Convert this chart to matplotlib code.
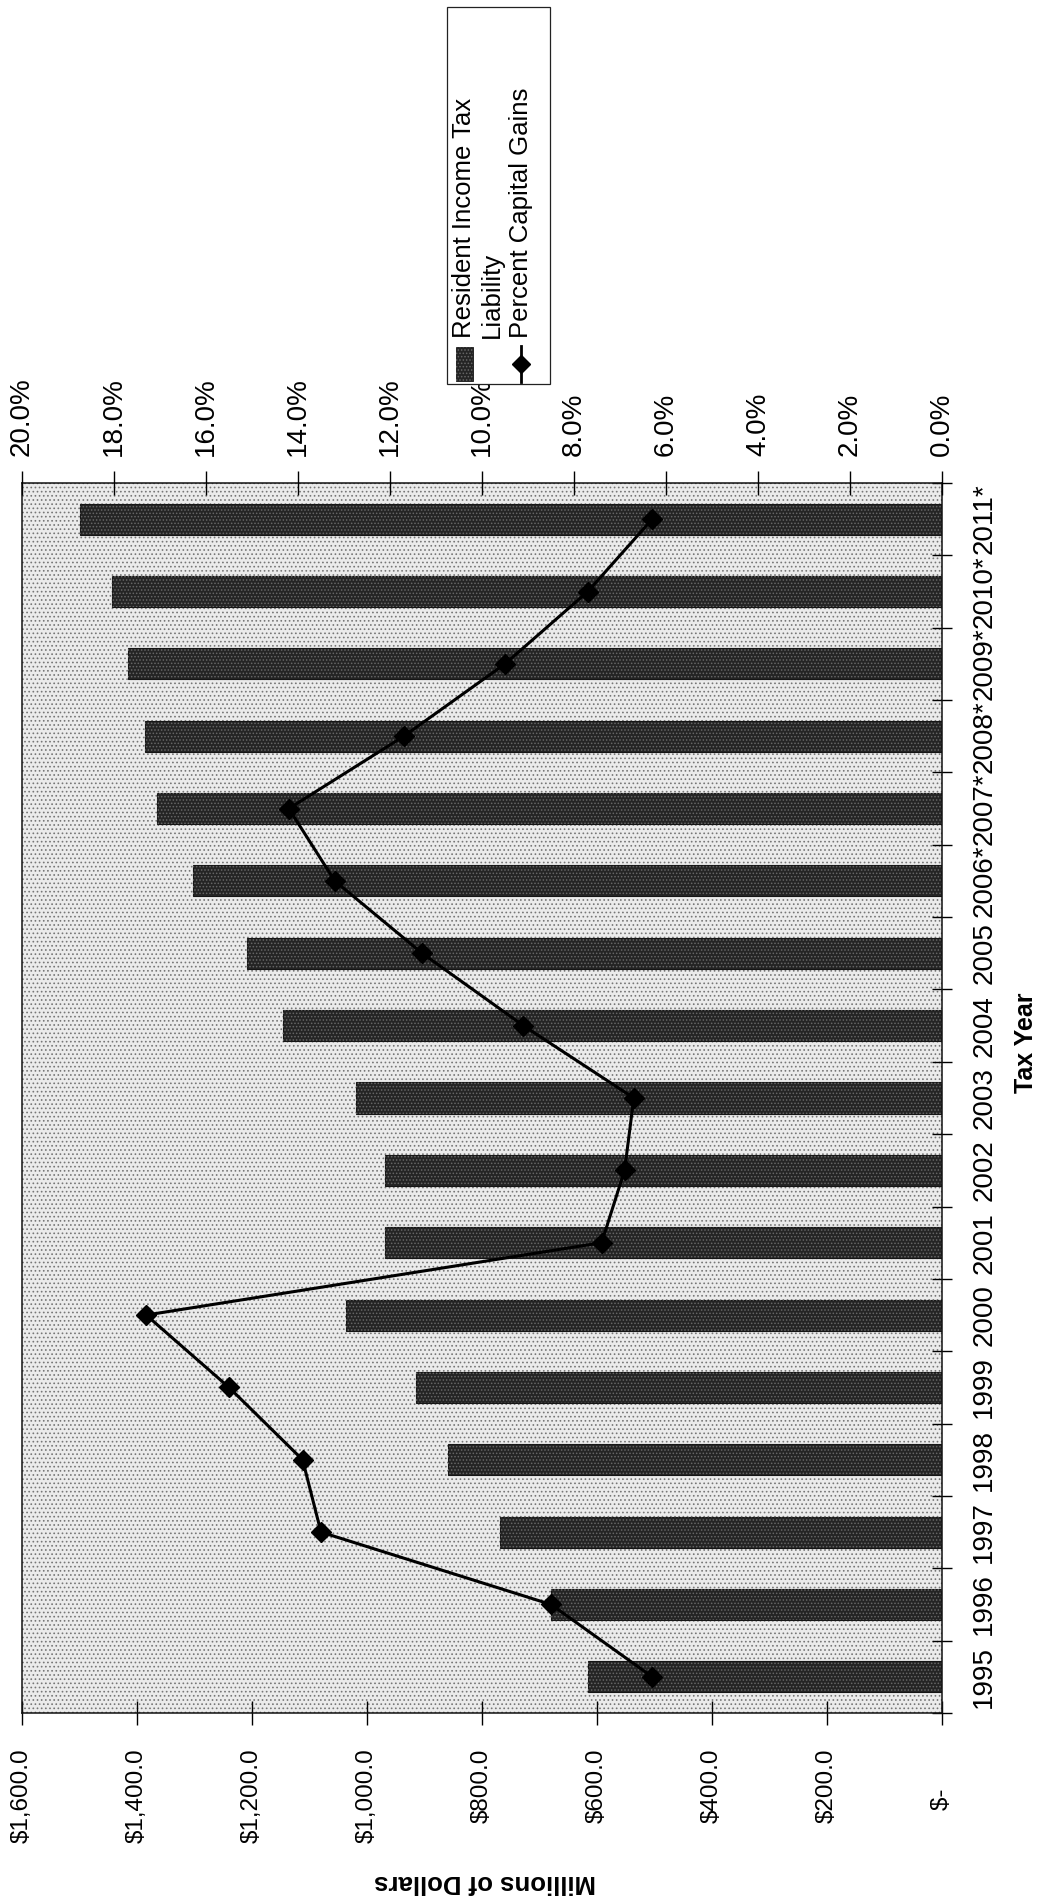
import matplotlib
matplotlib.use("Agg")
import matplotlib.pyplot as plt
from matplotlib.patches import Rectangle
from matplotlib.lines import Line2D
import numpy as np

# ---- data -------------------------------------------------------------
years = ["1995", "1996", "1997", "1998", "1999", "2000", "2001", "2002",
         "2003", "2004", "2005", "2006*", "2007*", "2008*", "2009*",
         "2010*", "2011*"]
liability = [616, 680, 769, 859, 915, 1037, 969, 969, 1019, 1146, 1209,
             1303, 1365, 1386, 1416, 1443, 1499]          # millions of dollars
cap_gains_pct = [6.3, 8.5, 13.5, 13.9, 15.5, 17.3, 7.4, 6.9, 6.7, 9.1,
                 11.3, 13.2, 14.2, 11.7, 9.5, 7.7, 6.3]     # percent
dollar_ticks = [0, 200, 400, 600, 800, 1000, 1200, 1400, 1600]
dollar_labels = ["$-      ", "$200.0", "$400.0", "$600.0", "$800.0",
                 "$1,000.0", "$1,200.0", "$1,400.0", "$1,600.0"]
pct_ticks = [0, 2, 4, 6, 8, 10, 12, 14, 16, 18, 20]
pct_labels = ["0.0%", "2.0%", "4.0%", "6.0%", "8.0%", "10.0%", "12.0%",
              "14.0%", "16.0%", "18.0%", "20.0%"]

# ---- style ------------------------------------------------------------
plt.rcParams['font.family'] = ['Liberation Sans', 'DejaVu Sans']
plt.rcParams['hatch.linewidth'] = 0.7

BAR_FACE = '#242424'
BAR_SPECKLE = '#666666'

W, H = 1038, 1902
fig = plt.figure(figsize=(W / 100, H / 100), dpi=100)


def fx(x):
    return x / W


def fy(y):
    return 1 - y / H


# chart printed sideways: years run up the right edge, bars grow leftwards
L, R, T, B = 22, 942, 483, 1713
ax = fig.add_axes([fx(L), fy(B), (R - L) / W, (B - T) / H])
pos = np.arange(len(years))

ax.set_facecolor('white')
ax.add_patch(Rectangle((0, 0), 1, 1, transform=ax.transAxes,
                       facecolor='#ebebeb', edgecolor='#777777', lw=0,
                       hatch='....', zorder=0))

ax.barh(pos, liability, height=0.43, color=BAR_FACE,
        edgecolor='#151515', lw=0.8, zorder=2)
ax.barh(pos, liability, height=0.43, facecolor='none',
        edgecolor=BAR_SPECKLE, lw=0, hatch='.....', zorder=2.1)

ax.set_xlim(1600, 0)
ax.set_ylim(-0.5, len(years) - 0.5)

ax.set_xticks(dollar_ticks, dollar_labels, rotation=90, fontsize=17.5)
ax.tick_params(axis='x', direction='inout', length=17, width=1, pad=17)

ax.yaxis.tick_right()
ax.set_yticks(pos, years, rotation=90, fontsize=20)
plt.setp(ax.get_yticklabels(), va='center')
ax.set_yticks(np.arange(-0.5, len(years)), minor=True)
ax.tick_params(axis='y', which='major', length=0, pad=21)
ax.tick_params(axis='y', which='minor', direction='inout', length=15,
               width=1, right=True, left=False)

for s in ax.spines.values():
    s.set_linewidth(1.1)
    s.set_color('#111111')

# percent axis along the top
ax2 = ax.twiny()
ax2.set_xlim(20, 0)
ax2.set_xticks(pct_ticks, pct_labels, rotation=90, fontsize=20)
ax2.tick_params(axis='x', direction='inout', length=17, width=1, pad=11)
ax2.plot(cap_gains_pct, pos, color='black', lw=2.2, marker='D',
         markersize=10, zorder=3)
for s in ax2.spines.values():
    s.set_visible(False)

# axis titles
fig.text(fx(485), fy(1882), 'Millions of Dollars', rotation=180,
         ha='center', va='center', fontsize=18.5, fontweight='bold')
fig.text(fx(1026), fy(1043), 'Tax Year', rotation=90,
         ha='center', va='center', fontsize=18, fontweight='bold')

# legend box
fig.add_artist(Rectangle((fx(447), fy(384)), 103 / W, 377 / H,
                         transform=fig.transFigure, facecolor='white',
                         edgecolor='#222222', lw=0.9))
fig.add_artist(Rectangle((fx(456), fy(381)), 17 / W, 34 / H,
                         transform=fig.transFigure, facecolor=BAR_FACE,
                         edgecolor='#151515', lw=0.6))
fig.add_artist(Rectangle((fx(456), fy(381)), 17 / W, 34 / H,
                         transform=fig.transFigure, facecolor='none',
                         edgecolor=BAR_SPECKLE, lw=0, hatch='.....'))
fig.add_artist(Line2D([fx(521), fx(521)], [fy(346), fy(382)],
                      transform=fig.transFigure, color='black', lw=2))
fig.add_artist(Line2D([fx(521)], [fy(364)], transform=fig.transFigure,
                      color='black', marker='D', markersize=9))
legend_lines = [(464, 'Resident Income Tax'), (492, 'Liability'),
                (521, 'Percent Capital Gains')]
for xc, txt in legend_lines:
    fig.text(fx(xc), fy(338), txt, rotation=90, rotation_mode='anchor',
             ha='left', va='center', fontsize=18.5)

fig.savefig('out.png', dpi=100, facecolor='white')
